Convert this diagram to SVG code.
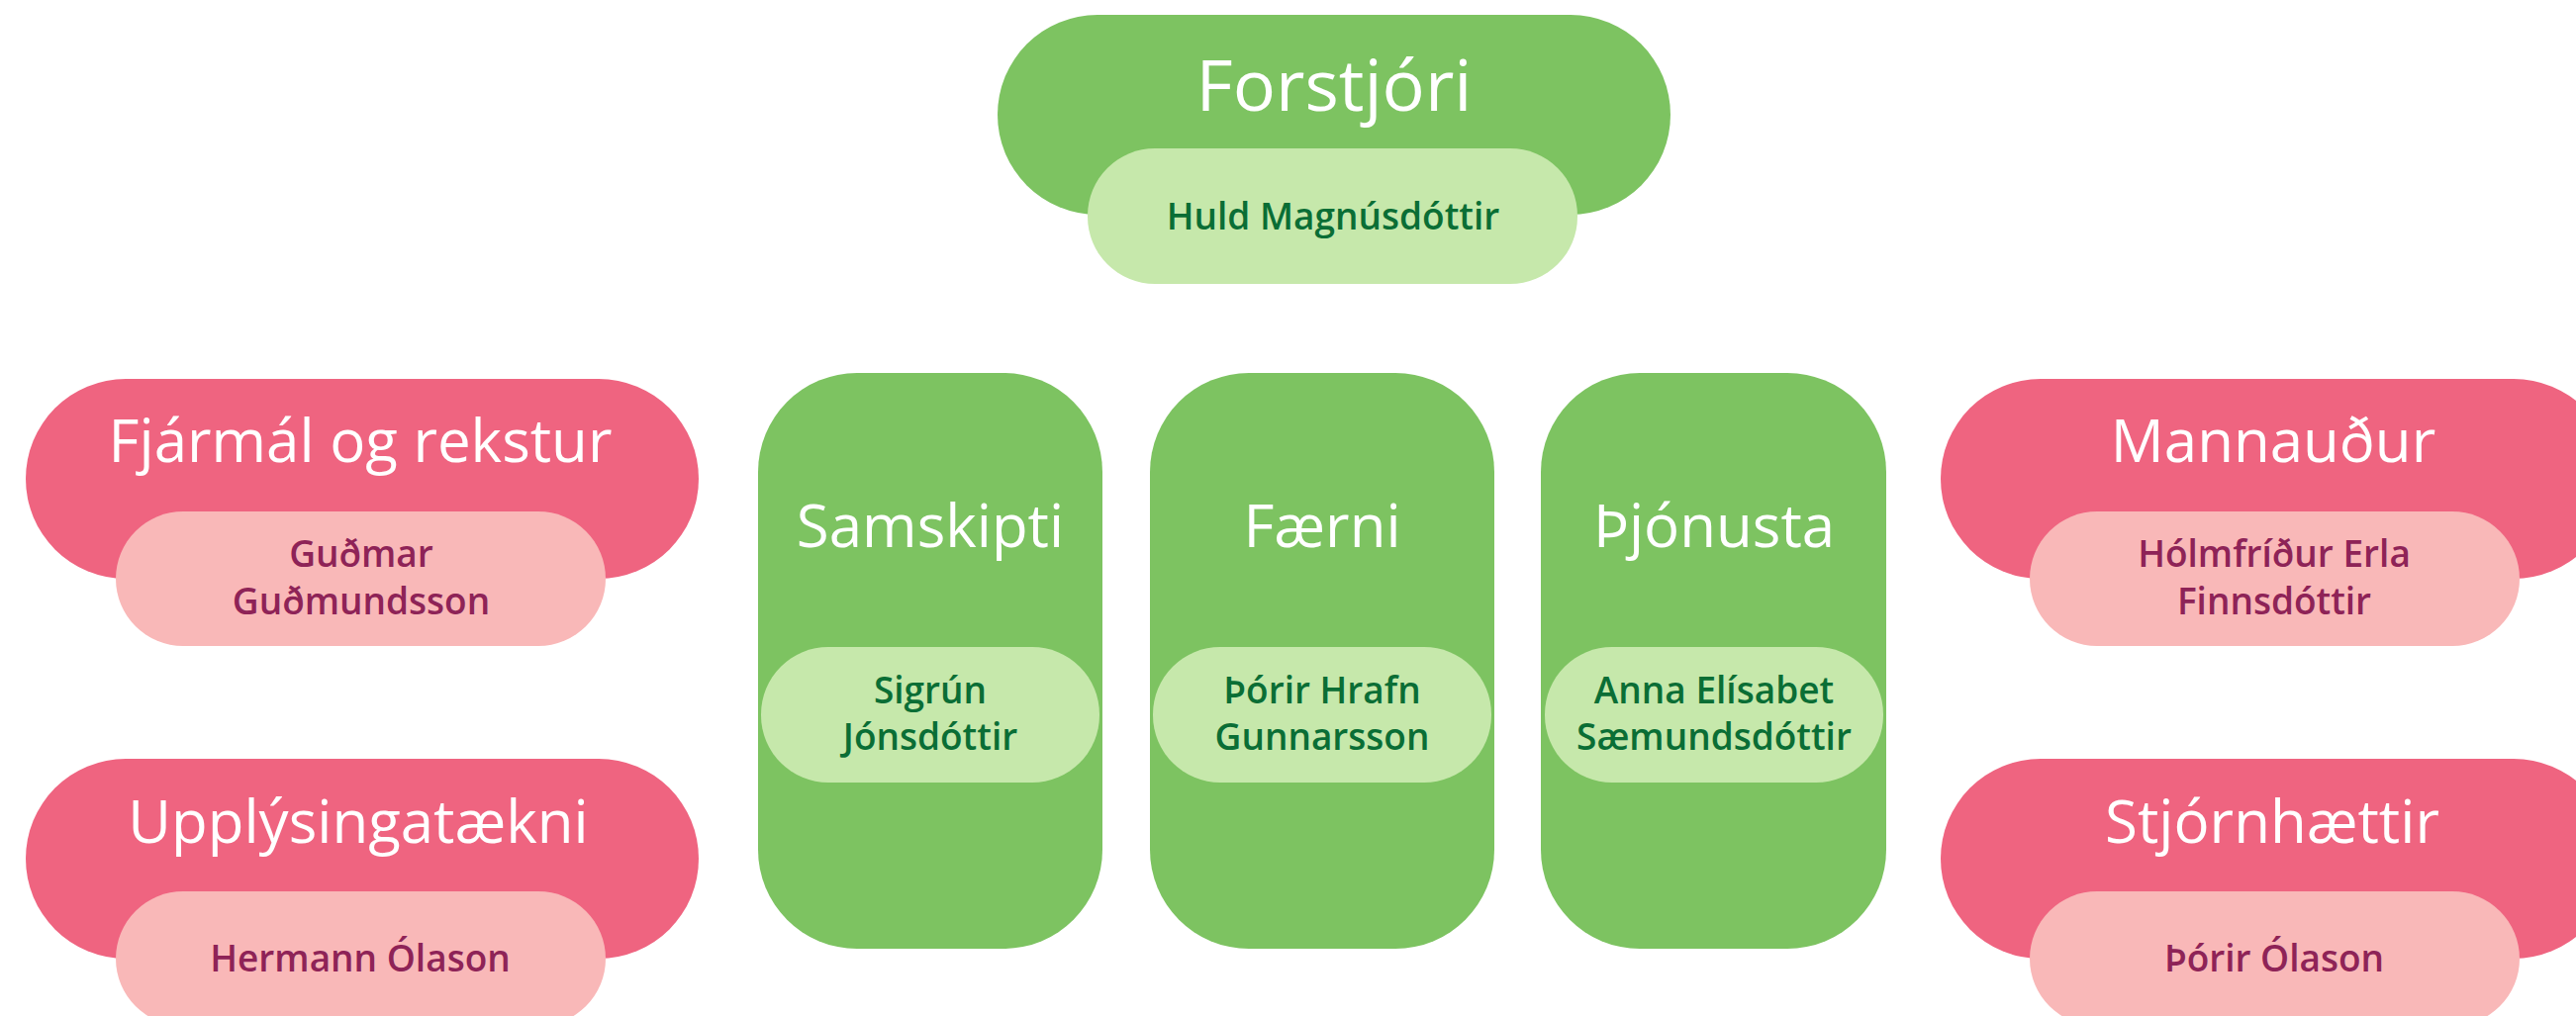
<svg xmlns="http://www.w3.org/2000/svg" width="2603" height="1027" viewBox="0 0 2603 1027">
<style>
.bg{fill:#ffffff}
.g1{fill:#7dc361}
.g2{fill:#c6e8ab}
.p1{fill:#ef6480}
.p2{fill:#f9b8b8}
.h{font-family:"Open Sans","Liberation Sans",sans-serif;fill:#ffffff;text-anchor:middle;font-size:60px;font-weight:400}
.top{font-size:72px}
.ng{font-family:"Open Sans","Liberation Sans",sans-serif;fill:#0a6e35;text-anchor:middle;font-size:37px;font-weight:600}
.np{font-family:"Open Sans","Liberation Sans",sans-serif;fill:#8e2357;text-anchor:middle;font-size:37px;font-weight:600}
</style>
<rect class="bg" x="0" y="0" width="2603" height="1027"/>
<g id="connectors"/>
<g id="forstjori">
<rect class="g1" x="1008" y="15" width="680" height="202" rx="101" ry="101"/>
<rect class="g2" x="1099" y="150" width="495" height="137" rx="68" ry="68"/>
<text class="h top" x="1348" y="112">Forstjóri</text>
<text class="ng" x="1347" y="232">Huld Magnúsdóttir</text>
</g>
<g id="fjarmal">
<rect class="p1" x="26" y="383" width="680" height="202" rx="101" ry="101"/>
<rect class="p2" x="117" y="517" width="495" height="136" rx="68" ry="68"/>
<text class="h" x="364" y="467">Fjármál og rekstur</text>
<text class="np" x="365" y="573">Guðmar</text>
<text class="np" x="365" y="621">Guðmundsson</text>
</g>
<g id="upplysingataekni">
<rect class="p1" x="26" y="767" width="680" height="202" rx="101" ry="101"/>
<rect class="p2" x="117" y="901" width="495" height="136" rx="68" ry="68"/>
<text class="h" x="362" y="852">Upplýsingatækni</text>
<text class="np" x="364" y="982">Hermann Ólason</text>
</g>
<g id="samskipti">
<rect class="g1" x="766" y="377" width="348" height="582" rx="100" ry="100"/>
<rect class="g2" x="769" y="654" width="342" height="137" rx="68" ry="68"/>
<text class="h" x="940" y="553">Samskipti</text>
<text class="ng" x="940" y="711">Sigrún</text>
<text class="ng" x="940" y="758">Jónsdóttir</text>
</g>
<g id="faerni">
<rect class="g1" x="1162" y="377" width="348" height="582" rx="100" ry="100"/>
<rect class="g2" x="1165" y="654" width="342" height="137" rx="68" ry="68"/>
<text class="h" x="1336" y="553">Færni</text>
<text class="ng" x="1336" y="711">Þórir Hrafn</text>
<text class="ng" x="1336" y="758">Gunnarsson</text>
</g>
<g id="thjonusta">
<rect class="g1" x="1557" y="377" width="349" height="582" rx="100" ry="100"/>
<rect class="g2" x="1561" y="654" width="342" height="137" rx="68" ry="68"/>
<text class="h" x="1732" y="553">Þjónusta</text>
<text class="ng" x="1732" y="711">Anna Elísabet</text>
<text class="ng" x="1732" y="758">Sæmundsdóttir</text>
</g>
<g id="mannaudur">
<rect class="p1" x="1961" y="383" width="680" height="202" rx="101" ry="101"/>
<rect class="p2" x="2051" y="517" width="495" height="136" rx="68" ry="68"/>
<text class="h" x="2297" y="467">Mannauður</text>
<text class="np" x="2298" y="573">Hólmfríður Erla</text>
<text class="np" x="2298" y="621">Finnsdóttir</text>
</g>
<g id="stjornhaettir">
<rect class="p1" x="1961" y="767" width="680" height="202" rx="101" ry="101"/>
<rect class="p2" x="2051" y="901" width="495" height="136" rx="68" ry="68"/>
<text class="h" x="2296" y="852">Stjórnhættir</text>
<text class="np" x="2298" y="982">Þórir Ólason</text>
</g>
</svg>
